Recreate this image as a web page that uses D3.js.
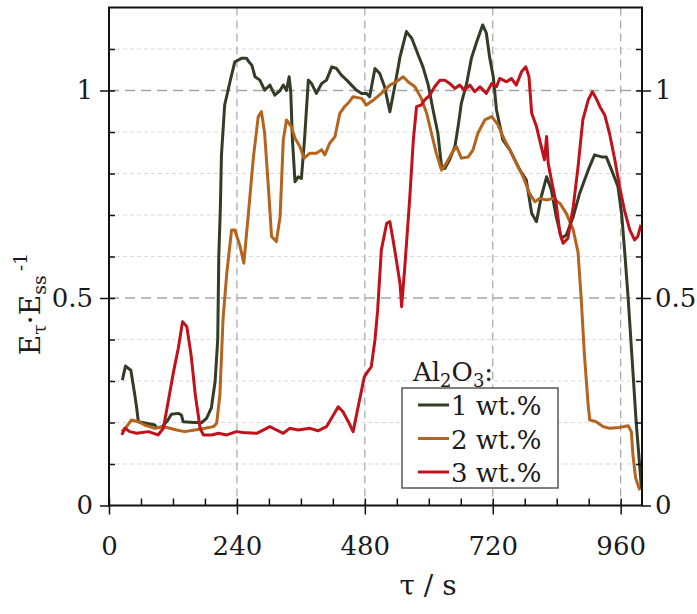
<!DOCTYPE html>
<html>
<head>
<meta charset="utf-8">
<script src="https://cdn.jsdelivr.net/npm/d3@7"></script>
<style>
  body { margin: 0; background: #fff; }
  text { font-family: "DejaVu Serif", serif; fill: #1a1a1a; }
</style>
</head>
<body>
<svg id="chart" width="697" height="614"></svg>
<script>
// time axis (s) and normalised modulus
const t1 = [25,31,41,48,52,55,70,86,89,100,110,117,130,136,139,160,174,183,192,199,204,206,209,211,217,227,236,245,249,258,262,268,274,283,292,302,311,321,327,333,338,341,344,349,355,361,367,374,380,389,399,408,418,427,436,446,455,464,474,483,489,499,508,517,527,536,546,558,568,580,589,599,608,617,624,630,639,649,655,661,671,680,689,701,708,714,721,727,739,752,771,783,793,802,811,821,830,839,849,858,871,883,899,911,924,933,943,955,962,968,974,983,989,996,999];
const v1 = [.302,.336,.326,.27,.235,.202,.198,.194,.187,.19,.205,.22,.222,.218,.202,.2,.2,.21,.235,.298,.40,.60,.72,.845,.965,1.021,1.069,1.075,1.078,1.078,1.07,1.061,1.033,1.025,1.001,1.013,.989,1.0,1.013,1.0,1.033,.997,.885,.78,.792,.788,.885,1.025,1.017,.993,1.017,1.025,1.057,1.053,1.037,1.025,1.013,1.001,.993,.993,.985,1.053,1.041,1.009,.949,1.009,1.081,1.142,1.126,1.086,1.057,1.013,.953,.897,.816,.812,.833,.865,.913,.969,1.017,1.078,1.114,1.158,1.138,1.081,1.033,.953,.881,.857,.808,.784,.704,.684,.744,.792,.76,.696,.644,.652,.696,.752,.808,.845,.84,.84,.808,.768,.70,.604,.5,.322,.202,.09,.04];

const t2 = [24,33,42,55,67,86,102,114,127,142,161,180,196,202,208,214,221,230,236,246,253,261,271,280,286,292,299,305,314,321,327,333,342,349,358,366,377,389,399,405,414,424,433,442,451,458,474,483,496,511,527,539,552,561,574,586,596,605,614,624,633,643,652,661,674,683,692,705,718,730,739,752,764,777,789,799,808,821,833,846,858,871,880,886,892,899,902,914,927,939,958,974,980,983,988,996];
const v2 = [.178,.19,.206,.202,.194,.186,.19,.186,.182,.178,.182,.186,.19,.198,.266,.45,.56,.664,.664,.624,.584,.696,.84,.937,.949,.897,.768,.648,.636,.696,.881,.929,.913,.885,.865,.837,.849,.849,.857,.845,.873,.889,.945,.961,.973,.985,.981,.965,.977,.993,1.013,1.021,1.033,1.021,1.009,.981,.945,.897,.849,.808,.825,.849,.865,.837,.84,.857,.897,.929,.937,.917,.889,.857,.825,.792,.752,.732,.74,.736,.74,.728,.704,.664,.61,.497,.363,.242,.206,.202,.19,.186,.188,.192,.178,.122,.066,.037];

const t3 = [24,30,39,52,74,92,102,111,121,130,138,146,154,162,171,177,193,205,221,239,252,277,302,314,327,339,355,377,392,408,421,430,439,449,458,470,479,485,492,499,504,511,521,527,533,539,546,549,555,564,571,577,586,592,602,611,621,630,639,649,658,667,677,686,696,708,718,727,733,746,755,764,774,782,788,793,802,811,817,821,824,830,839,846,852,861,871,880,889,899,907,914,921,930,939,949,958,967,977,986,992,998];
const v3 = [.17,.186,.178,.174,.178,.17,.186,.25,.322,.379,.443,.431,.363,.266,.186,.17,.17,.174,.17,.178,.176,.174,.19,.182,.174,.186,.182,.186,.18,.19,.218,.238,.226,.202,.178,.254,.31,.322,.334,.399,.47,.616,.68,.684,.64,.592,.535,.479,.575,.736,.881,.961,.965,.977,.989,1.009,1.025,1.025,1.017,1.005,1.013,1.001,1.013,.997,1.009,.993,1.017,1.009,1.029,1.021,1.029,1.013,1.045,1.057,1.033,.945,.913,.865,.833,.889,.825,.784,.728,.656,.632,.644,.72,.816,.929,.977,.997,.981,.961,.941,.897,.833,.768,.712,.664,.64,.648,.676];

const seriesNames = ["1 wt.%", "2 wt.%", "3 wt.%"];
const seriesColors = ["#323d27", "#b5631d", "#c1121c"];
const xMajor = [0, 240, 480, 720, 960];
const yMajor = [0, 0.5, 1];

const series = [
  { name: seriesNames[0], color: seriesColors[0], pts: t1.map((t, i) => [t, v1[i]]) },
  { name: seriesNames[1], color: seriesColors[1], pts: t2.map((t, i) => [t, v2[i]]) },
  { name: seriesNames[2], color: seriesColors[2], pts: t3.map((t, i) => [t, v3[i]]) },
];

const svg = d3.select("#chart");
const pL = 109, pR = 642, pT = 7.5, pB = 505.5;

const x = d3.scaleLinear().domain([0, 1000]).range([pL, pR]);
const y = d3.scaleLinear().domain([0, 1.2]).range([pB, pT]);

const yMinor = d3.range(1, 12).map(d => d / 10);
const xMinor = d3.range(0, 1000, 60);

// grid
const grid = svg.append("g");
grid.selectAll(".hmin")
  .data(yMinor.filter(d => Math.abs(d - 0.5) > 1e-6 && Math.abs(d - 1) > 1e-6))
  .enter().append("line")
  .attr("x1", pL).attr("x2", pR)
  .attr("y1", d => y(d)).attr("y2", d => y(d))
  .attr("stroke", "#dadada").attr("stroke-width", 1.2)
  .attr("stroke-dasharray", "4,3");
grid.selectAll(".hmaj")
  .data([0.5, 1])
  .enter().append("line")
  .attr("x1", pL).attr("x2", pR)
  .attr("y1", d => y(d)).attr("y2", d => y(d))
  .attr("stroke", "#a6a6a6").attr("stroke-width", 1.4)
  .attr("stroke-dasharray", "10,6");
grid.selectAll(".vmaj")
  .data(xMajor.slice(1))
  .enter().append("line")
  .attr("y1", pT).attr("y2", pB)
  .attr("x1", d => x(d)).attr("x2", d => x(d))
  .attr("stroke", "#a6a6a6").attr("stroke-width", 1.2)
  .attr("stroke-dasharray", "8,5");

// curves
const line = d3.line()
  .x(d => x(d[0]))
  .y(d => y(d[1]));

svg.append("g")
  .selectAll("path")
  .data(series)
  .enter().append("path")
  .attr("fill", "none")
  .attr("stroke", d => d.color)
  .attr("stroke-width", 3)
  .attr("stroke-linejoin", "round")
  .attr("d", d => line(d.pts));

// frame
svg.append("rect")
  .attr("x", pL).attr("y", pT)
  .attr("width", pR - pL).attr("height", pB - pT)
  .attr("fill", "none").attr("stroke", "#111").attr("stroke-width", 2);

function clean(g) {
  g.select(".domain").remove();
  g.selectAll("line").attr("stroke", "#111").attr("stroke-width", 1.5);
  g.selectAll("text").attr("font-family", "DejaVu Serif").attr("font-size", 26).attr("fill", "#1a1a1a");
}

// left axis
svg.append("g").attr("transform", `translate(${pL},0)`)
  .call(d3.axisLeft(y).tickValues(yMinor).tickSize(-6).tickFormat(""))
  .call(clean);
svg.append("g").attr("transform", `translate(${pL},0)`)
  .call(d3.axisLeft(y).tickValues(yMajor).tickSize(9).tickPadding(7).tickFormat(d3.format("")))
  .call(clean);

// right axis
svg.append("g").attr("transform", `translate(${pR},0)`)
  .call(d3.axisRight(y).tickValues(yMinor).tickSize(-6).tickFormat(""))
  .call(clean);
svg.append("g").attr("transform", `translate(${pR},0)`)
  .call(d3.axisRight(y).tickValues(yMajor).tickSize(9).tickPadding(4).tickFormat(d3.format("")))
  .call(clean);

// bottom axis
svg.append("g").attr("transform", `translate(0,${pB})`)
  .call(d3.axisBottom(x).tickValues(xMinor).tickSize(-7).tickFormat(""))
  .call(clean);
svg.append("g").attr("transform", `translate(0,${pB})`)
  .call(d3.axisBottom(x).tickValues(xMajor).tickSize(9).tickPadding(22).tickFormat(d3.format("d")))
  .call(clean);

// axis titles
svg.append("text")
  .attr("x", 428).attr("y", 595)
  .attr("text-anchor", "middle")
  .attr("font-size", 28)
  .text("τ / s");

const yl = svg.append("text")
  .attr("transform", "translate(40,304) rotate(-90)")
  .attr("text-anchor", "middle")
  .attr("font-size", 28);
yl.append("tspan").text("E");
yl.append("tspan").attr("font-size", 19).attr("dy", 6).text("τ");
yl.append("tspan").attr("dy", -6).text("·E");
yl.append("tspan").attr("font-size", 19).attr("dy", 6).text("ss");
yl.append("tspan").attr("font-size", 19).attr("dy", -19).attr("dx", 4).text("-1");

// legend
const lg = svg.append("g");
const lt = lg.append("text").attr("x", 413).attr("y", 381).attr("font-size", 26);
lt.append("tspan").text("Al");
lt.append("tspan").attr("font-size", 18).attr("dy", 6).text("2");
lt.append("tspan").attr("dy", -6).text("O");
lt.append("tspan").attr("font-size", 18).attr("dy", 6).text("3");
lt.append("tspan").attr("dy", -6).text(":");

lg.append("rect")
  .attr("x", 402).attr("y", 388).attr("width", 156).attr("height", 100)
  .attr("fill", "#fff").attr("stroke", "#555").attr("stroke-width", 1.5);

const items = lg.selectAll(".item").data(series).enter().append("g")
  .attr("transform", (d, i) => `translate(0,${405 + i * 33.5})`);
items.append("line")
  .attr("x1", 418).attr("x2", 449)
  .attr("stroke", d => d.color).attr("stroke-width", 3);
items.append("text")
  .attr("x", 451).attr("y", 10)
  .attr("font-size", 26)
  .text(d => d.name);
</script>
</body>
</html>
